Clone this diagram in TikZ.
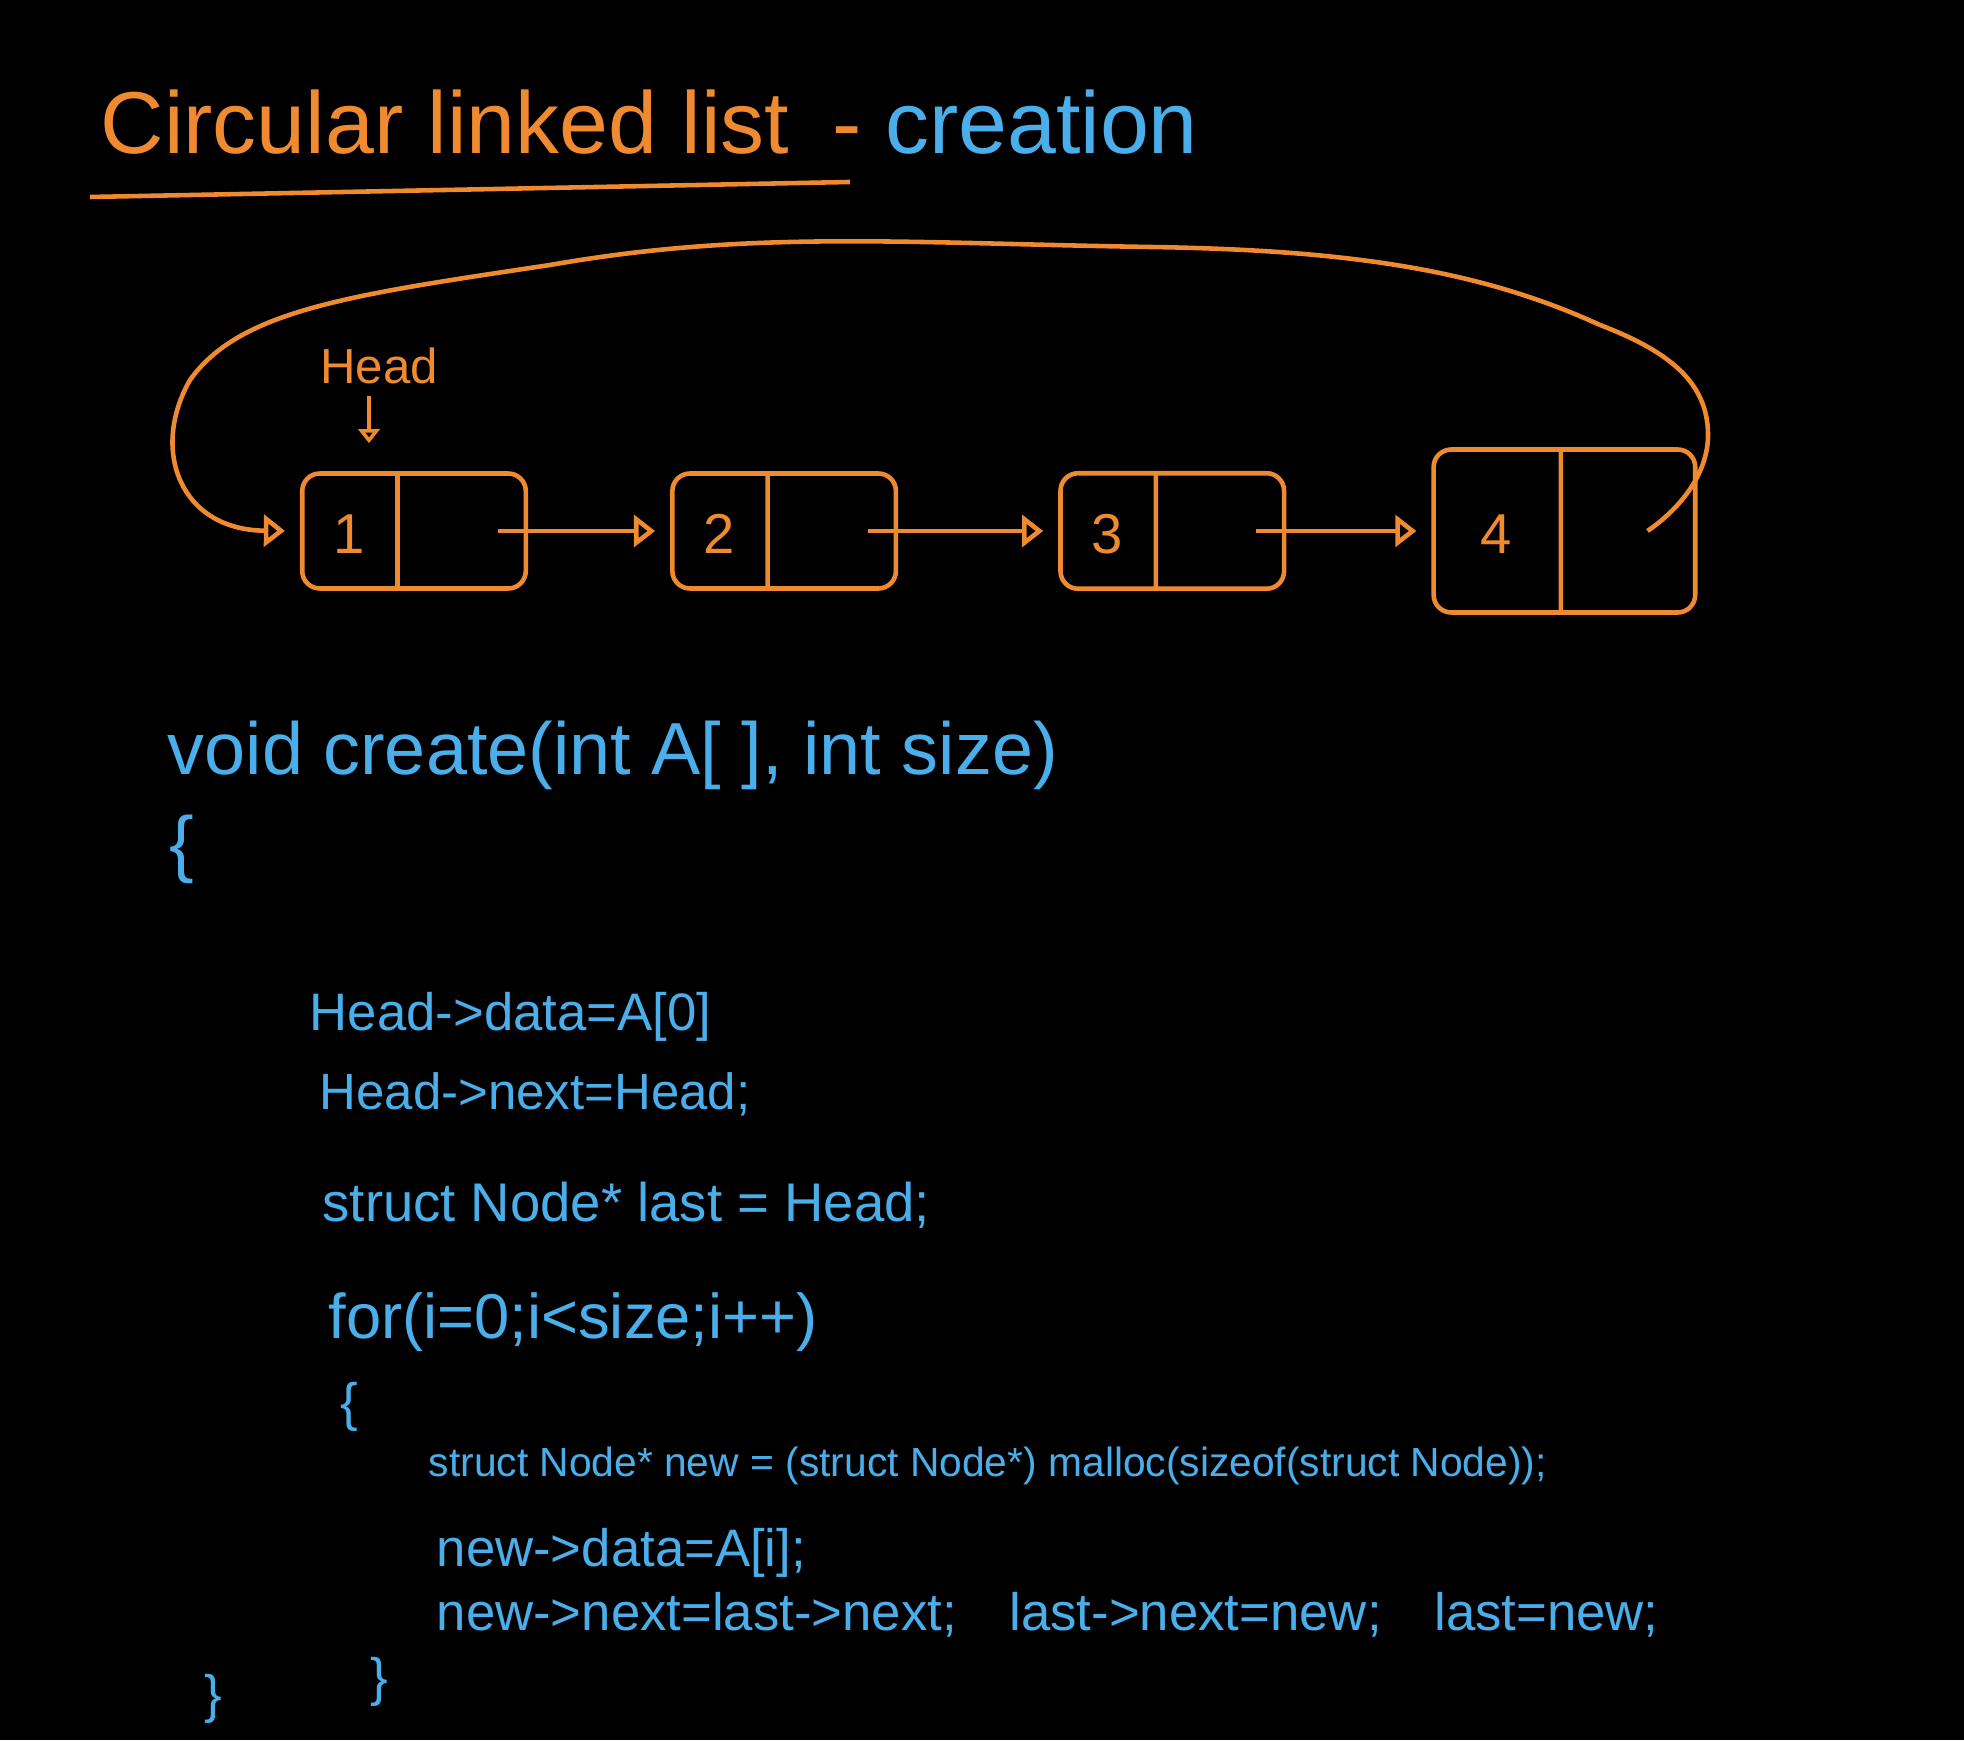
\documentclass[tikz,border=0pt]{standalone}
\usepackage{fontspec}
\setmainfont{Liberation Sans}
\usepackage{xcolor}
\definecolor{chalkorange}{RGB}{240, 138, 48}
\definecolor{chalkblue}{RGB}{74, 174, 234}
\usepackage{tikz}
\usetikzlibrary{
    arrows.meta,
    positioning,
    shapes.multipart
}
\tikzstyle{link} = [
    line width=1.3pt,
    draw=chalkorange,
    -{Triangle[open, length=6pt, width=9pt]},
    shorten >=1.5mm
]
\newcommand{\listcell}[3]{\makebox[#2]{\rule{0pt}{0.45cm}#1}\nodepart{two}\makebox[#3]{\rule{0pt}{0.45cm}}}

\begin{document}
\begin{tikzpicture}[
  node distance=1.42cm,
  listnode/.style={draw=chalkorange, line width=1.3pt, rounded corners=5pt,
    rectangle split, rectangle split horizontal, rectangle split parts=2,
    rectangle split ignore empty parts=false,
    inner xsep=0pt, inner ysep=0.35cm,
    text=chalkorange, font=\fontsize{16}{16}\selectfont},
  heading/.style={anchor=base west, inner sep=0pt, font=\fontsize{25}{25}\selectfont},
  code/.style={anchor=base west, inner sep=0pt, text=chalkblue, font=\fontsize{#1}{#1}\selectfont}
]
\useasboundingbox (0,0) rectangle (19.64,17.40);
\fill[black] (0,0) rectangle (19.64,17.40);

\node (title) [heading, text=chalkorange] at (1.0,15.86) {Circular linked list};
\node (dash) [right=0.42cm of title.base east, heading, text=chalkorange] {-};
\node (subtitle) [right=0.22cm of dash.base east, heading, text=chalkblue] {creation};
\draw[line width=1.3pt, chalkorange] ([shift={(-0.1,-0.43)}]title.base west) -- ([shift={(0.6,-0.28)}]title.base east);

\node (n1) [listnode] at (4.14,12.09) {\listcell{1}{0.93cm}{1.26cm}};
\node (n2) [listnode, right=of n1] {\listcell{2}{0.93cm}{1.26cm}};
\node (n3) [listnode, right=1.6cm of n2] {\listcell{3}{0.93cm}{1.26cm}};
\node (n4) [listnode, right=1.45cm of n3, inner ysep=0.59cm] {\listcell{4}{1.25cm}{1.32cm}};

\node (head) [text=chalkorange, font=\fontsize{14}{14}\selectfont] at (3.79,13.74) {Head};
\draw[link, -{Triangle[open, length=4pt, width=6pt]}, shorten >=0.28cm] ([xshift=-1mm]head.south) -- ([xshift=-1mm]head.south |- n1.north);

\draw[link] ([xshift=-0.3cm]n1.east) -- (n2.west);
\draw[link] ([xshift=-0.3cm]n2.east) -- (n3.west);
\draw[link] ([xshift=-0.3cm]n3.east) -- (n4.west);
\draw[link] ([xshift=-0.5cm]n4.east) .. controls (16.85,12.35) and (17.08,12.7) .. (17.08,13.05)
  .. controls (17.08,13.6) and (16.65,13.9) .. (16.0,14.15)
  .. controls (14.8,14.7) and (13.5,14.9) .. (11.5,14.93)
  .. controls (9,14.97) and (7.5,15.1) .. (5.5,14.75)
  .. controls (3.5,14.45) and (2.4,14.3) .. (1.9,13.6)
  .. controls (1.5,12.9) and (1.8,12.1) .. (n1.west);

\node (sig) [code=21] at (1.67,9.66) {void create(int A[ ], int size)};
\node (open) [code=21] at (1.69,8.72) {\{};
\node (setdata) [code=15] at (3.09,7.10) {Head->data=A[0]};
\node (setnext) [code=14.5] at (3.19,6.31) {Head->next=Head;};
\node (setlast) [code=15.5] at (3.22,5.19) {struct Node* last = Head;};
\node (loop) [code=18] at (3.28,4.02) {for(i=0;i<size;i++)};
\node (loopopen) [code=15] at (3.40,3.20) {\{};
\node (alloc) [code=11.6] at (4.28,2.64) {struct Node* new = (struct Node*) malloc(sizeof(struct Node));};
\node (newdata) [code=15] at (4.36,1.74) {new->data=A[i];};
\node (link) [code=15] at (4.36,1.10) {new->next=last->next;\quad last->next=new;\quad last=new;};
\node (loopclose) [code=15] at (3.70,0.45) {\}};
\node (close) [code=15] at (2.04,0.28) {\}};

\end{tikzpicture}
\end{document}
